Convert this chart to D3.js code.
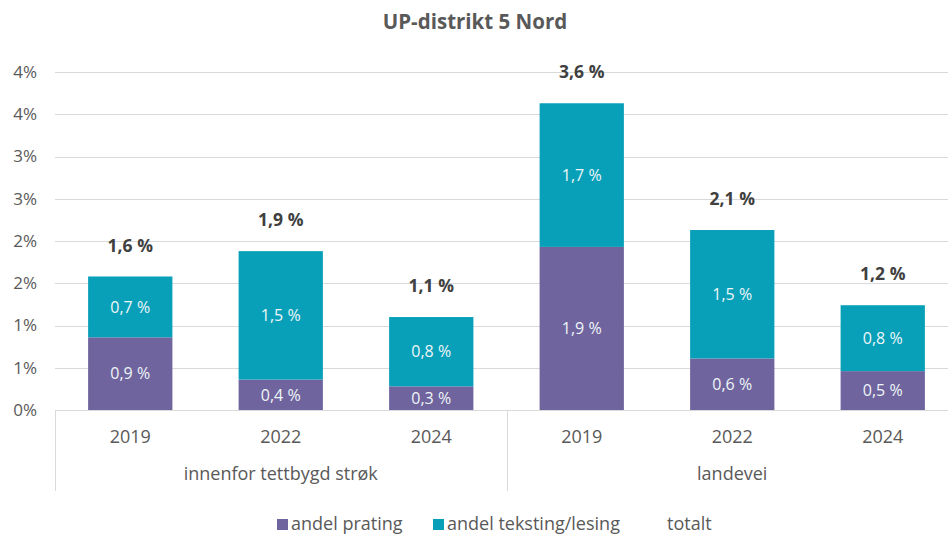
<!DOCTYPE html>
<html>
<head>
<meta charset="utf-8">
<script src="https://cdn.jsdelivr.net/npm/d3@7"></script>
<style>
  body { margin: 0; background: #fff; }
  svg { display: block; font-family: "Open Sans", "Noto Sans", sans-serif; }
</style>
</head>
<body>
<div id="chart"></div>
<script>
var groups = ["innenfor tettbygd strøk", "landevei"];
var years = ["2019", "2022", "2024"];
var prating = [0.86, 0.36, 0.28, 1.93, 0.61, 0.46];
var teksting = [0.72, 1.52, 0.82, 1.70, 1.52, 0.78];
var yTicks = [0, 0.5, 1, 1.5, 2, 2.5, 3, 3.5, 4];
var yTickLabels = ["0%", "1%", "1%", "2%", "2%", "3%", "3%", "4%", "4%"];
var seriesNames = ["andel prating", "andel teksting/lesing", "totalt"];
var colors = ["#70649e", "#08a0b8"];

var width = 948, height = 535;
var plotLeft = 55, plotRight = 958, plotTop = 72, plotBottom = 410;
var textColor = "#595959";

var svg = d3.select("#chart").append("svg")
  .attr("width", width)
  .attr("height", height);

var keys = [];
groups.forEach(function(g){
  years.forEach(function(y){ keys.push(g + "|" + y); });
});

var rows = keys.map(function(k, i){
  return {key: k, year: k.split("|")[1], p: prating[i], t: teksting[i]};
});

var x = d3.scaleBand().domain(keys).range([plotLeft, plotRight]).paddingInner(0.44).paddingOuter(0.22);
var y = d3.scaleLinear().domain([0, 4]).range([plotBottom, plotTop]);

var fmt = function(v){ return d3.format(".1f")(v).replace(".", ",") + " %"; };

// gridlines
svg.append("g").selectAll("line").data(yTicks.slice(1)).enter().append("line")
  .attr("x1", plotLeft).attr("x2", plotRight)
  .attr("y1", function(d){ return Math.round(y(d)) + 0.5; })
  .attr("y2", function(d){ return Math.round(y(d)) + 0.5; })
  .attr("stroke", "#d9d9d9").attr("stroke-width", 1);

// y axis labels
svg.append("g").selectAll("text").data(yTicks).enter().append("text")
  .attr("x", 37)
  .attr("y", function(d){ return y(d); })
  .attr("dy", "0.35em")
  .attr("text-anchor", "end")
  .attr("fill", textColor)
  .style("font-size", "17px")
  .text(function(d, i){ return yTickLabels[i]; });

// stacks
var stack = d3.stack().keys(["p", "t"]);
var layers = stack(rows);

var layerG = svg.append("g").selectAll("g").data(layers).enter().append("g")
  .attr("fill", function(d, i){ return colors[i]; });

layerG.selectAll("rect").data(function(d){ return d; }).enter().append("rect")
  .attr("x", function(d){ return x(d.data.key); })
  .attr("width", x.bandwidth())
  .attr("y", function(d){ return y(d[1]); })
  .attr("height", function(d){ return y(d[0]) - y(d[1]); });

// segment labels
layerG.selectAll("text").data(function(d){ return d; }).enter().append("text")
  .attr("x", function(d){ return x(d.data.key) + x.bandwidth() / 2; })
  .attr("y", function(d){ return (y(d[0]) + y(d[1])) / 2; })
  .attr("dy", "0.36em")
  .attr("text-anchor", "middle")
  .attr("fill", "#eef6f8")
  .style("font-size", "16px")
  .text(function(d){ return fmt(d[1] - d[0]); });

// totals
svg.append("g").selectAll("text").data(rows).enter().append("text")
  .attr("x", function(d){ return x(d.key) + x.bandwidth() / 2; })
  .attr("y", function(d){ return y(d.p + d.t) - 31; })
  .attr("dy", "0.35em")
  .attr("text-anchor", "middle")
  .attr("fill", "#404040")
  .style("font-size", "17.5px")
  .style("font-weight", "bold")
  .text(function(d){ return fmt(d.p + d.t); });

// x axis
svg.append("line")
  .attr("x1", plotLeft).attr("x2", plotRight)
  .attr("y1", plotBottom + 0.5).attr("y2", plotBottom + 0.5)
  .attr("stroke", "#d9d9d9");

svg.append("g").selectAll("text").data(rows).enter().append("text")
  .attr("x", function(d){ return x(d.key) + x.bandwidth() / 2; })
  .attr("y", 437)
  .attr("dy", "0.35em")
  .attr("text-anchor", "middle")
  .attr("fill", textColor)
  .style("font-size", "18px")
  .text(function(d){ return d.year; });

var groupW = (plotRight - plotLeft) / groups.length;
svg.append("g").selectAll("line").data(d3.range(groups.length + 1)).enter().append("line")
  .attr("x1", function(i){ return Math.round(plotLeft + i * groupW) + 0.5; })
  .attr("x2", function(i){ return Math.round(plotLeft + i * groupW) + 0.5; })
  .attr("y1", plotBottom).attr("y2", 491)
  .attr("stroke", "#d9d9d9");

svg.append("g").selectAll("text").data(groups).enter().append("text")
  .attr("x", function(d, i){ return plotLeft + (i + 0.5) * groupW; })
  .attr("y", 474)
  .attr("dy", "0.35em")
  .attr("text-anchor", "middle")
  .attr("fill", textColor)
  .style("font-size", "18px")
  .text(function(d){ return d; });

// title
svg.append("text")
  .attr("x", 475).attr("y", 22)
  .attr("dy", "0.35em")
  .attr("text-anchor", "middle")
  .attr("fill", textColor)
  .style("font-size", "20.5px")
  .style("font-weight", "bold")
  .text("UP-distrikt 5 Nord");

// legend
var legendX = [277, 433, 667];
var leg = svg.append("g").selectAll("g").data(seriesNames).enter().append("g")
  .attr("transform", function(d, i){ return "translate(" + legendX[i] + ",524)"; });
leg.filter(function(d, i){ return i < 2; }).append("rect")
  .attr("x", 0).attr("y", -5).attr("width", 11).attr("height", 11)
  .attr("fill", function(d, i){ return colors[i]; });
leg.append("text")
  .attr("x", function(d, i){ return i < 2 ? 14 : 0; })
  .attr("dy", "0.35em")
  .attr("fill", textColor)
  .style("font-size", "18px")
  .text(function(d){ return d; });
</script>
</body>
</html>
